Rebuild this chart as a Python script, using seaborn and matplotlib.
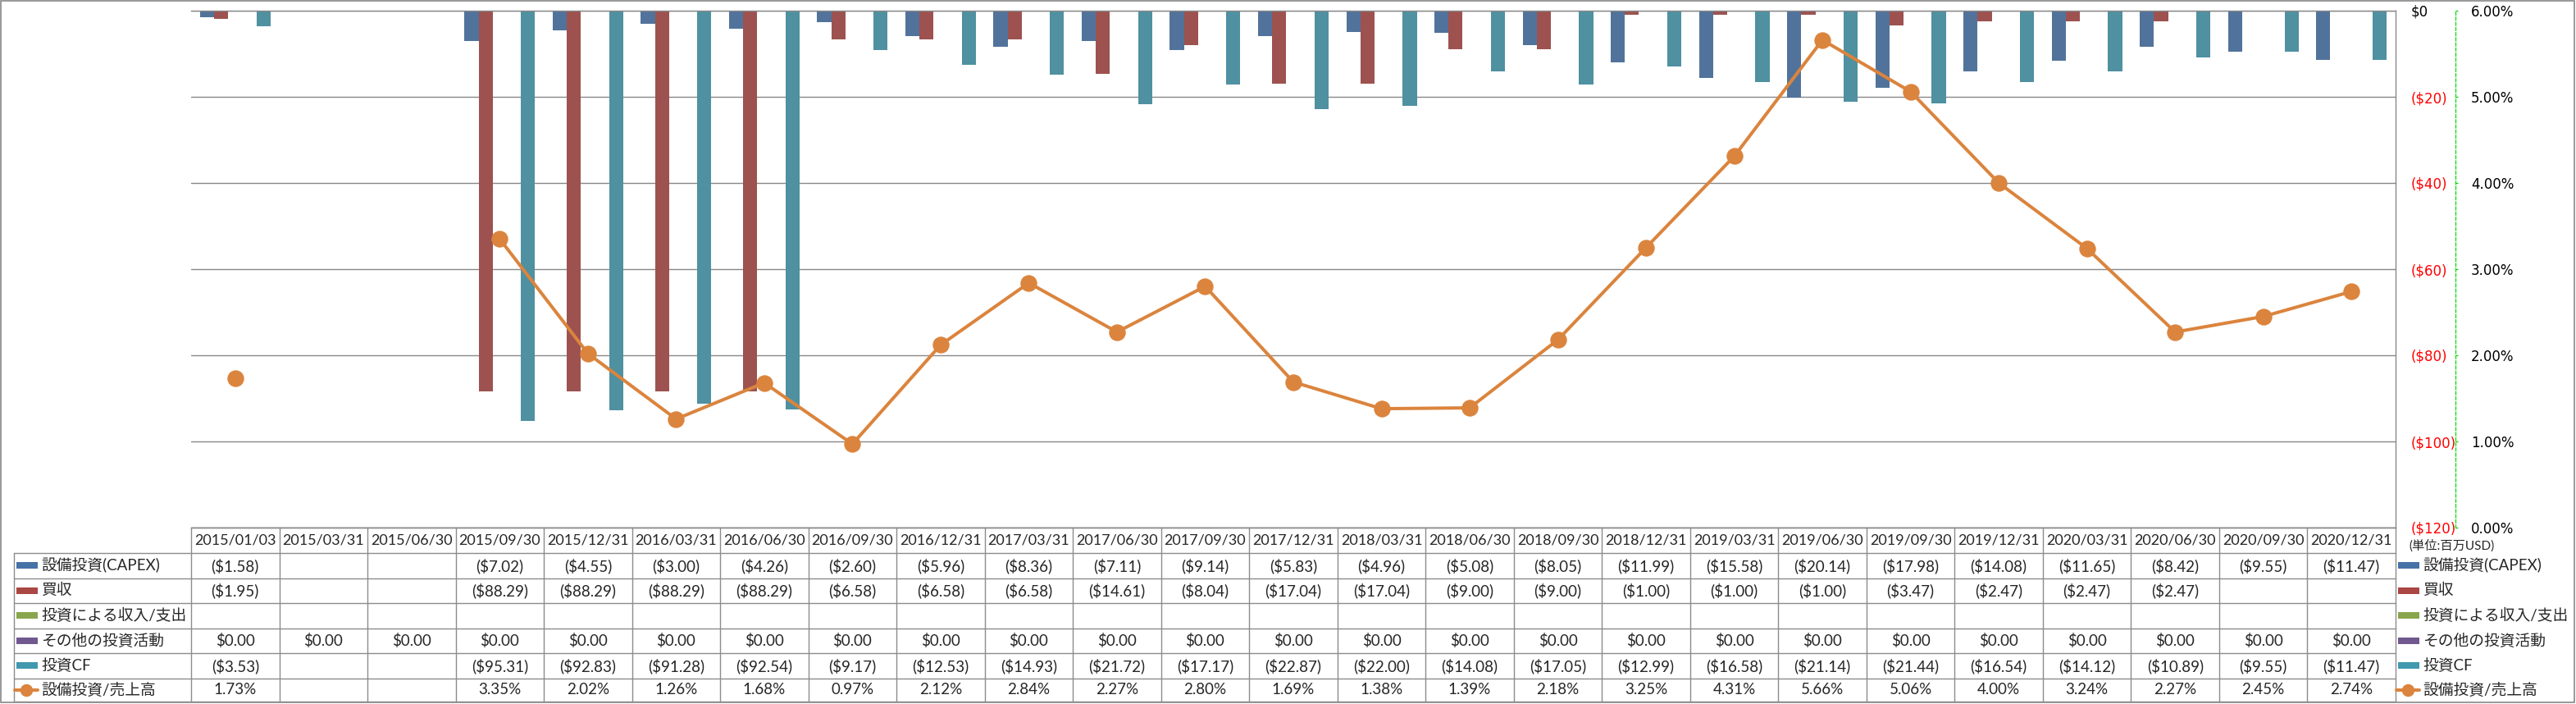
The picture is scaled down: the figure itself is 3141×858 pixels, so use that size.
import numpy as np
import pandas as pd
import matplotlib
matplotlib.use("Agg")
import matplotlib.pyplot as plt
import seaborn as sns
from matplotlib.patches import Rectangle
from matplotlib.lines import Line2D

# --- data (百万USD) ---
dates = ["2015/01/03", "2015/03/31", "2015/06/30", "2015/09/30", "2015/12/31",
         "2016/03/31", "2016/06/30", "2016/09/30", "2016/12/31", "2017/03/31",
         "2017/06/30", "2017/09/30", "2017/12/31", "2018/03/31", "2018/06/30",
         "2018/09/30", "2018/12/31", "2019/03/31", "2019/06/30", "2019/09/30",
         "2019/12/31", "2020/03/31", "2020/06/30", "2020/09/30", "2020/12/31"]

capex = [-1.58, None, None, -7.02, -4.55, -3.00, -4.26, -2.60, -5.96, -8.36,
         -7.11, -9.14, -5.83, -4.96, -5.08, -8.05, -11.99, -15.58, -20.14, -17.98,
         -14.08, -11.65, -8.42, -9.55, -11.47]
acquisitions = [-1.95, None, None, -88.29, -88.29, -88.29, -88.29, -6.58, -6.58, -6.58,
                -14.61, -8.04, -17.04, -17.04, -9.00, -9.00, -1.00, -1.00, -1.00, -3.47,
                -2.47, -2.47, -2.47, None, None]
invest_income = [None, None, None, None, None, None, None, None, None, None,
                 None, None, None, None, None, None, None, None, None, None,
                 None, None, None, None, None]
other_invest = [0.00, 0.00, 0.00, 0.00, 0.00, 0.00, 0.00, 0.00, 0.00, 0.00,
                0.00, 0.00, 0.00, 0.00, 0.00, 0.00, 0.00, 0.00, 0.00, 0.00,
                0.00, 0.00, 0.00, 0.00, 0.00]
invest_cf = [-3.53, None, None, -95.31, -92.83, -91.28, -92.54, -9.17, -12.53, -14.93,
             -21.72, -17.17, -22.87, -22.00, -14.08, -17.05, -12.99, -16.58, -21.14, -21.44,
             -16.54, -14.12, -10.89, -9.55, -11.47]
capex_ratio = [1.73, None, None, 3.35, 2.02, 1.26, 1.68, 0.97, 2.12, 2.84,
               2.27, 2.80, 1.69, 1.38, 1.39, 2.18, 3.25, 4.31, 5.66, 5.06,
               4.00, 3.24, 2.27, 2.45, 2.74]

series_names = ["設備投資(CAPEX)", "買収", "投資による収入/支出", "その他の投資活動", "投資CF"]
series_values = [capex, acquisitions, invest_income, other_invest, invest_cf]
ratio_name = "設備投資/売上高"

colors = ["#4572A7", "#AA4643", "#89A54E", "#71588F", "#4198AF"]
line_color = "#DB843D"
grid_color = "#888888"
unit_label = "(単位:百万USD)"

# --- layout (pixels) ---
W, H = 3141, 858
PX = 0.72  # points per pixel at dpi 100
plot_left, plot_right, plot_top, plot_bottom = 233, 2921, 13, 643
row_edges = [643, 674, 704.5, 735, 765.5, 796, 826.5, 855]
legend_left = 17

sns.set_style("white")
plt.rcParams["font.family"] = ["Lato", "Noto Sans CJK JP", "DejaVu Sans"]

fig = plt.figure(figsize=(W / 100, H / 100), dpi=100)
ax = fig.add_axes([plot_left / W, 1 - plot_bottom / H,
                   (plot_right - plot_left) / W, (plot_bottom - plot_top) / H])

rows = []
for name, vals in zip(series_names, series_values):
    for d, v in zip(dates, vals):
        rows.append({"date": d, "series": name, "value": np.nan if v is None else v})
df = pd.DataFrame(rows)

sns.barplot(data=df, x="date", y="value", hue="series", order=dates,
            hue_order=series_names, palette=colors, width=0.8, linewidth=0,
            errorbar=None, legend=False, ax=ax)

# ratio line on secondary axis
ax2 = ax.twinx()
ratio = np.array([np.nan if v is None else v / 100 for v in capex_ratio])
ax2.plot(np.arange(len(dates)), ratio, color=line_color, lw=4 * PX,
         marker="o", ms=19 * PX, mec=line_color, mfc=line_color)
ax2.set_ylim(0, 0.06)
pt = [i / 100 for i in range(0, 7)]
ax2.set_yticks(pt, [f"{v * 100:.2f}%" for v in pt])
for s in ["left", "top", "bottom"]:
    ax2.spines[s].set_visible(False)
ax2.spines["right"].set_position(("outward", 73 * PX))
ax2.spines["right"].set_color("#00DD00")
ax2.spines["right"].set_linestyle((0, (3, 2)))
ax2.spines["right"].set_linewidth(0.9)
ax2.tick_params(axis="y", length=3 * PX, width=0.9, color="#00DD00",
                labelcolor="black", pad=16 * PX, labelsize=12)
for lbl in ax2.get_yticklabels():
    lbl.set_fontfamily("DejaVu Sans")
ax2.grid(False)

# primary (dollar) axis, labels just right of the plot area
ax.set_xlim(-0.5, len(dates) - 0.5)
ax.set_ylim(-120, 0)
ax.set_xlabel("")
ax.set_ylabel("")
ax.set_xticks([])
ax.yaxis.tick_right()
ax.yaxis.set_label_position("right")
yt = list(range(-120, 1, 20))
ax.set_yticks(yt, ["$0" if v == 0 else f"(${abs(v)})" for v in yt])
ax.tick_params(axis="y", which="both", left=False, labelleft=False,
               right=False, labelright=True, length=0, pad=19 * PX, labelsize=12)
for lbl, v in zip(ax.get_yticklabels(), yt):
    lbl.set_color("black" if v == 0 else "#FF0000")
    lbl.set_fontfamily("DejaVu Sans")
ax.grid(axis="y", color=grid_color, lw=1.0)
ax.set_axisbelow(True)
ax.spines["left"].set_visible(False)
for s in ["top", "bottom", "right"]:
    ax.spines[s].set_color(grid_color)
    ax.spines[s].set_linewidth(1.0)

# --- data table underneath ---
tab = fig.add_axes([0, 0, 1, 1])
tab.set_xlim(0, W)
tab.set_ylim(H, 0)
tab.axis("off")

col_edges = [ax.transData.transform((i - 0.5, 0))[0] for i in range(len(dates) + 1)]
lc = "#8C8C8C"
lw = 1.0

tab.plot([col_edges[0], col_edges[-1]], [row_edges[0]] * 2, color=lc, lw=lw)
for y in row_edges[1:]:
    tab.plot([legend_left, col_edges[-1]], [y, y], color=lc, lw=lw)
tab.plot([legend_left, legend_left], [row_edges[1], row_edges[-1]], color=lc, lw=lw)
for x in col_edges:
    tab.plot([x, x], [row_edges[0], row_edges[-1]], color=lc, lw=lw)

def fmt_money(v):
    if v is None:
        return ""
    if v == 0:
        return "$0.00"
    return f"(${abs(v):.2f})"

fs = 13.5
for i, d in enumerate(dates):
    cx = (col_edges[i] + col_edges[i + 1]) / 2
    tab.text(cx, (row_edges[0] + row_edges[1]) / 2, d, ha="center", va="center", fontsize=13)
    for r, vals in enumerate(series_values):
        cy = (row_edges[r + 1] + row_edges[r + 2]) / 2
        tab.text(cx, cy, fmt_money(vals[i]), ha="center", va="center", fontsize=fs)
    cy = (row_edges[6] + row_edges[7]) / 2
    if capex_ratio[i] is not None:
        tab.text(cx, cy, f"{capex_ratio[i]:.2f}%", ha="center", va="center", fontsize=fs)

# legend keys: inside the table and repeated at the right
for kx in [20, 2924]:
    for r, (name, c) in enumerate(zip(series_names, colors)):
        cy = (row_edges[r + 1] + row_edges[r + 2]) / 2
        tab.add_patch(Rectangle((kx, cy - 4), 26, 8, color=c, lw=0))
        tab.text(kx + 30, cy, name, ha="left", va="center", fontsize=fs)
    cy = (row_edges[6] + row_edges[7]) / 2
    tab.add_line(Line2D([kx - 2, kx + 26], [cy, cy], color=line_color, lw=4 * PX))
    tab.plot([kx + 12], [cy], marker="o", ms=14 * PX, color=line_color)
    tab.text(kx + 30, cy, ratio_name, ha="left", va="center", fontsize=fs)

tab.text(2937, 665, unit_label, ha="left", va="center", fontsize=11)

# outer frame
tab.add_patch(Rectangle((1, 1), W - 3, H - 3, fill=False, ec=grid_color, lw=1.2))

fig.savefig("out.png", dpi=100)
